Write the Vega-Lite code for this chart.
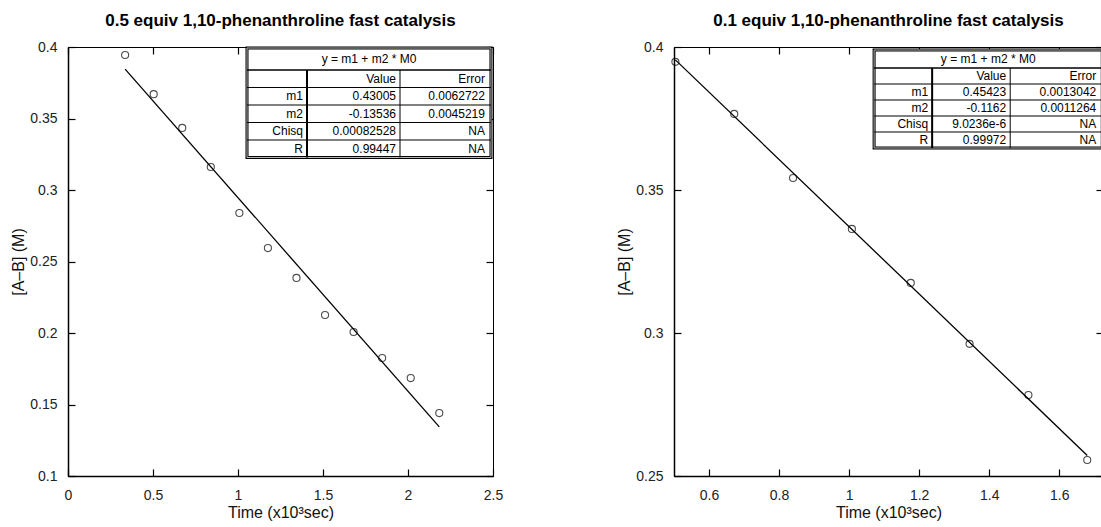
{
  "$schema": "https://vega.github.io/schema/vega-lite/v6.json",
  "background": "white",
  "padding": {"left": 10, "top": 11, "right": 0, "bottom": 0},
  "spacing": 112,
  "config": {
    "font": "Liberation Sans",
    "view": {"stroke": "#000", "strokeWidth": 1},
    "axis": {
      "grid": false,
      "labelFont": "Liberation Sans",
      "labelFontSize": 14,
      "labelColor": "#222",
      "tickColor": "#000",
      "tickWidth": 1.2,
      "domainColor": "#000",
      "titleFont": "Liberation Sans",
      "titleFontWeight": "normal",
      "titleFontSize": 16,
      "titleColor": "#111",
      "labelFlush": false,
      "labelOverlap": false
    },
    "title": {"font": "Liberation Sans", "fontSize": 17, "fontWeight": "bold", "color": "#000", "anchor": "middle", "frame": "group", "offset": 10}
  },
  "hconcat": [
    {
      "width": 425,
      "height": 429,
      "title": "0.5 equiv 1,10-phenanthroline fast catalysis",
      "resolve": {"axis": {"x": "independent", "y": "independent"}},
      "layer": [
        {
          "data": {"values": [{"t1": 1.053, "t2": 2.488, "c1": 0.3993, "c2": 0.32273}]},
          "mark": {"type": "rect", "fill": "white", "stroke": "#000", "strokeWidth": 3},
          "encoding": {
            "x": {"field": "t1", "type": "quantitative", "scale": {"domain": [0, 2.5], "nice": false, "zero": false}, "axis": null},
            "x2": {"field": "t2"},
            "y": {"field": "c1", "type": "quantitative", "scale": {"domain": [0.1, 0.4], "nice": false, "zero": false}, "axis": null},
            "y2": {"field": "c2"}
          }
        },
        {
          "data": {"values": [{"t1": 1.053, "t2": 2.488, "c1": 0.3993, "c2": 0.32273}]},
          "mark": {"type": "rect", "fill": null, "stroke": "#bbb", "strokeWidth": 1},
          "encoding": {
            "x": {"field": "t1", "type": "quantitative", "scale": {"domain": [0, 2.5], "nice": false, "zero": false}, "axis": null},
            "x2": {"field": "t2"},
            "y": {"field": "c1", "type": "quantitative", "scale": {"domain": [0.1, 0.4], "nice": false, "zero": false}, "axis": null},
            "y2": {"field": "c2"}
          }
        },
        {
          "data": {"values": [
            {"t1": 1.053, "t2": 2.488, "c1": 0.38392, "c2": 0.38392, "w": 1.5},
            {"t1": 1.053, "t2": 2.488, "c1": 0.37168, "c2": 0.37168, "w": 1},
            {"t1": 1.053, "t2": 2.488, "c1": 0.35944, "c2": 0.35944, "w": 1},
            {"t1": 1.053, "t2": 2.488, "c1": 0.3472, "c2": 0.3472, "w": 1},
            {"t1": 1.053, "t2": 2.488, "c1": 0.33497, "c2": 0.33497, "w": 1},
            {"t1": 1.406, "t2": 1.406, "c1": 0.38392, "c2": 0.32273, "w": 2},
            {"t1": 1.953, "t2": 1.953, "c1": 0.38392, "c2": 0.32273, "w": 1}
          ]},
          "mark": {"type": "rule", "color": "#000"},
          "encoding": {
            "x": {"field": "t1", "type": "quantitative", "scale": {"domain": [0, 2.5], "nice": false, "zero": false}, "axis": null},
            "x2": {"field": "t2"},
            "y": {"field": "c1", "type": "quantitative", "scale": {"domain": [0.1, 0.4], "nice": false, "zero": false}, "axis": null},
            "y2": {"field": "c2"},
            "strokeWidth": {"field": "w", "type": "quantitative", "scale": null}
          }
        },
        {
          "data": {"values": [{"t": 1.7705, "c": 0.39161, "label": "y = m1 + m2 * M0"}]},
          "mark": {"type": "text", "align": "center", "baseline": "middle", "fontSize": 12, "color": "#000"},
          "encoding": {
            "x": {"field": "t", "type": "quantitative", "scale": {"domain": [0, 2.5], "nice": false, "zero": false}, "axis": null},
            "y": {"field": "c", "type": "quantitative", "scale": {"domain": [0.1, 0.4], "nice": false, "zero": false}, "axis": null},
            "text": {"field": "label"}
          }
        },
        {
          "data": {"values": [
            {"t": 1.406, "c": 0.35332, "label": "m2"},
            {"t": 1.406, "c": 0.36556, "label": "m1"},
            {"t": 1.406, "c": 0.34108, "label": "Chisq"},
            {"t": 1.406, "c": 0.32885, "label": "R"},
            {"t": 1.953, "c": 0.3778, "label": "Value"},
            {"t": 1.953, "c": 0.36556, "label": "0.43005"},
            {"t": 1.953, "c": 0.35332, "label": "-0.13536"},
            {"t": 1.953, "c": 0.34108, "label": "0.00082528"},
            {"t": 1.953, "c": 0.32885, "label": "0.99447"}
          ]},
          "mark": {"type": "text", "align": "right", "baseline": "middle", "fontSize": 12, "dx": -4, "color": "#000"},
          "encoding": {
            "x": {"field": "t", "type": "quantitative", "scale": {"domain": [0, 2.5], "nice": false, "zero": false}, "axis": null},
            "y": {"field": "c", "type": "quantitative", "scale": {"domain": [0.1, 0.4], "nice": false, "zero": false}, "axis": null},
            "text": {"field": "label"}
          }
        },
        {
          "data": {"values": [
            {"t": 2.488, "c": 0.3778, "label": "Error"},
            {"t": 2.488, "c": 0.36556, "label": "0.0062722"},
            {"t": 2.488, "c": 0.35332, "label": "0.0045219"},
            {"t": 2.488, "c": 0.34108, "label": "NA"},
            {"t": 2.488, "c": 0.32885, "label": "NA"}
          ]},
          "mark": {"type": "text", "align": "right", "baseline": "middle", "fontSize": 12, "dx": -6, "color": "#000"},
          "encoding": {
            "x": {"field": "t", "type": "quantitative", "scale": {"domain": [0, 2.5], "nice": false, "zero": false}, "axis": null},
            "y": {"field": "c", "type": "quantitative", "scale": {"domain": [0.1, 0.4], "nice": false, "zero": false}, "axis": null},
            "text": {"field": "label"}
          }
        },
        {
          "data": {"values": [{"time": 0.336, "conc": 0.3845}, {"time": 2.184, "conc": 0.1344}]},
          "mark": {"type": "line", "color": "#000", "strokeWidth": 1.3},
          "encoding": {
            "x": {"field": "time", "type": "quantitative", "scale": {"domain": [0, 2.5], "nice": false, "zero": false},
                  "axis": {"orient": "top", "values": [0, 0.5, 1, 1.5, 2, 2.5], "labels": false, "domain": false, "tickSize": -7, "title": null}},
            "y": {"field": "conc", "type": "quantitative", "scale": {"domain": [0.1, 0.4], "nice": false, "zero": false},
                  "axis": {"orient": "right", "values": [0.1, 0.15, 0.2, 0.25, 0.3, 0.35, 0.4], "labels": false, "domain": false, "tickSize": -7, "title": null}}
          }
        },
        {
          "data": {"values": [
            {"time": 0.336, "conc": 0.3944},
            {"time": 0.504, "conc": 0.367},
            {"time": 0.672, "conc": 0.3434},
            {"time": 0.84, "conc": 0.3161},
            {"time": 1.008, "conc": 0.2839},
            {"time": 1.176, "conc": 0.2594},
            {"time": 1.344, "conc": 0.2385},
            {"time": 1.512, "conc": 0.2126},
            {"time": 1.68, "conc": 0.2007},
            {"time": 1.848, "conc": 0.1825},
            {"time": 2.016, "conc": 0.1685},
            {"time": 2.184, "conc": 0.144}
          ]},
          "mark": {"type": "point", "shape": "circle", "filled": false, "stroke": "#000", "strokeWidth": 1.1, "size": 50},
          "encoding": {
            "x": {"field": "time", "type": "quantitative", "scale": {"domain": [0, 2.5], "nice": false, "zero": false},
                  "axis": {"orient": "bottom", "values": [0, 0.5, 1, 1.5, 2, 2.5], "format": "~g", "tickSize": -7, "labelPadding": 19, "domainWidth": 1.5, "title": "Time (x10³sec)", "titlePadding": 2}},
            "y": {"field": "conc", "type": "quantitative", "scale": {"domain": [0.1, 0.4], "nice": false, "zero": false},
                  "axis": {"orient": "left", "values": [0.1, 0.15, 0.2, 0.25, 0.3, 0.35, 0.4], "format": "~g", "tickSize": -7, "labelPadding": 18, "domainWidth": 1.5, "title": "[A–B] (M)", "titlePadding": 3}}
          }
        }
      ]
    },
    {
      "width": 429,
      "height": 429,
      "title": "0.1 equiv 1,10-phenanthroline fast catalysis",
      "resolve": {"axis": {"x": "independent", "y": "independent"}},
      "layer": [
        {
          "data": {"values": [{"t1": 1.0714, "t2": 1.7229, "c1": 0.39895, "c2": 0.36469}]},
          "mark": {"type": "rect", "fill": "white", "stroke": "#000", "strokeWidth": 3},
          "encoding": {
            "x": {"field": "t1", "type": "quantitative", "scale": {"domain": [0.5, 1.725], "nice": false, "zero": false}, "axis": null},
            "x2": {"field": "t2"},
            "y": {"field": "c1", "type": "quantitative", "scale": {"domain": [0.25, 0.4], "nice": false, "zero": false}, "axis": null},
            "y2": {"field": "c2"}
          }
        },
        {
          "data": {"values": [{"t1": 1.0714, "t2": 1.7229, "c1": 0.39895, "c2": 0.36469}]},
          "mark": {"type": "rect", "fill": null, "stroke": "#bbb", "strokeWidth": 1},
          "encoding": {
            "x": {"field": "t1", "type": "quantitative", "scale": {"domain": [0.5, 1.725], "nice": false, "zero": false}, "axis": null},
            "x2": {"field": "t2"},
            "y": {"field": "c1", "type": "quantitative", "scale": {"domain": [0.25, 0.4], "nice": false, "zero": false}, "axis": null},
            "y2": {"field": "c2"}
          }
        },
        {
          "data": {"values": [
            {"t1": 1.0714, "t2": 1.7229, "c1": 0.39266, "c2": 0.39266, "w": 1.5},
            {"t1": 1.0714, "t2": 1.7229, "c1": 0.38706, "c2": 0.38706, "w": 1},
            {"t1": 1.0714, "t2": 1.7229, "c1": 0.38147, "c2": 0.38147, "w": 1},
            {"t1": 1.0714, "t2": 1.7229, "c1": 0.37587, "c2": 0.37587, "w": 1},
            {"t1": 1.0714, "t2": 1.7229, "c1": 0.37028, "c2": 0.37028, "w": 1},
            {"t1": 1.2371, "t2": 1.2371, "c1": 0.39266, "c2": 0.36469, "w": 2},
            {"t1": 1.46, "t2": 1.46, "c1": 0.39266, "c2": 0.36469, "w": 1}
          ]},
          "mark": {"type": "rule", "color": "#000"},
          "encoding": {
            "x": {"field": "t1", "type": "quantitative", "scale": {"domain": [0.5, 1.725], "nice": false, "zero": false}, "axis": null},
            "x2": {"field": "t2"},
            "y": {"field": "c1", "type": "quantitative", "scale": {"domain": [0.25, 0.4], "nice": false, "zero": false}, "axis": null},
            "y2": {"field": "c2"},
            "strokeWidth": {"field": "w", "type": "quantitative", "scale": null}
          }
        },
        {
          "data": {"values": [{"t": 1.3972, "c": 0.3958, "label": "y = m1 + m2 * M0"}]},
          "mark": {"type": "text", "align": "center", "baseline": "middle", "fontSize": 12, "color": "#000"},
          "encoding": {
            "x": {"field": "t", "type": "quantitative", "scale": {"domain": [0.5, 1.725], "nice": false, "zero": false}, "axis": null},
            "y": {"field": "c", "type": "quantitative", "scale": {"domain": [0.25, 0.4], "nice": false, "zero": false}, "axis": null},
            "text": {"field": "label"}
          }
        },
        {
          "data": {"values": [
            {"t": 1.2371, "c": 0.38427, "label": "m1"},
            {"t": 1.2371, "c": 0.37867, "label": "m2"},
            {"t": 1.2371, "c": 0.37308, "label": "Chisq"},
            {"t": 1.2371, "c": 0.36748, "label": "R"},
            {"t": 1.46, "c": 0.38986, "label": "Value"},
            {"t": 1.46, "c": 0.38427, "label": "0.45423"},
            {"t": 1.46, "c": 0.37867, "label": "-0.1162"},
            {"t": 1.46, "c": 0.37308, "label": "9.0236e-6"},
            {"t": 1.46, "c": 0.36748, "label": "0.99972"}
          ]},
          "mark": {"type": "text", "align": "right", "baseline": "middle", "fontSize": 12, "dx": -4, "color": "#000"},
          "encoding": {
            "x": {"field": "t", "type": "quantitative", "scale": {"domain": [0.5, 1.725], "nice": false, "zero": false}, "axis": null},
            "y": {"field": "c", "type": "quantitative", "scale": {"domain": [0.25, 0.4], "nice": false, "zero": false}, "axis": null},
            "text": {"field": "label"}
          }
        },
        {
          "data": {"values": [
            {"t": 1.7229, "c": 0.38986, "label": "Error"},
            {"t": 1.7229, "c": 0.38427, "label": "0.0013042"},
            {"t": 1.7229, "c": 0.37867, "label": "0.0011264"},
            {"t": 1.7229, "c": 0.37308, "label": "NA"},
            {"t": 1.7229, "c": 0.36748, "label": "NA"}
          ]},
          "mark": {"type": "text", "align": "right", "baseline": "middle", "fontSize": 12, "dx": -6, "color": "#000"},
          "encoding": {
            "x": {"field": "t", "type": "quantitative", "scale": {"domain": [0.5, 1.725], "nice": false, "zero": false}, "axis": null},
            "y": {"field": "c", "type": "quantitative", "scale": {"domain": [0.25, 0.4], "nice": false, "zero": false}, "axis": null},
            "text": {"field": "label"}
          }
        },
        {
          "data": {"values": [{"time": 0.504, "conc": 0.3955}, {"time": 1.68, "conc": 0.2572}]},
          "mark": {"type": "line", "color": "#000", "strokeWidth": 1.3},
          "encoding": {
            "x": {"field": "time", "type": "quantitative", "scale": {"domain": [0.5, 1.725], "nice": false, "zero": false},
                  "axis": {"orient": "top", "values": [0.6, 0.8, 1, 1.2, 1.4, 1.6], "labels": false, "domain": false, "tickSize": -7, "title": null}},
            "y": {"field": "conc", "type": "quantitative", "scale": {"domain": [0.25, 0.4], "nice": false, "zero": false},
                  "axis": {"orient": "right", "values": [0.25, 0.3, 0.35, 0.4], "labels": false, "domain": false, "tickSize": -7, "title": null}}
          }
        },
        {
          "data": {"values": [
            {"time": 0.504, "conc": 0.3948},
            {"time": 0.672, "conc": 0.3766},
            {"time": 0.84, "conc": 0.3542},
            {"time": 1.008, "conc": 0.3364},
            {"time": 1.176, "conc": 0.3175},
            {"time": 1.344, "conc": 0.2962},
            {"time": 1.512, "conc": 0.2783},
            {"time": 1.68, "conc": 0.2556}
          ]},
          "mark": {"type": "point", "shape": "circle", "filled": false, "stroke": "#000", "strokeWidth": 1.1, "size": 50},
          "encoding": {
            "x": {"field": "time", "type": "quantitative", "scale": {"domain": [0.5, 1.725], "nice": false, "zero": false},
                  "axis": {"orient": "bottom", "values": [0.6, 0.8, 1, 1.2, 1.4, 1.6], "format": "~g", "tickSize": -7, "labelPadding": 19, "domainWidth": 1.5, "title": "Time (x10³sec)", "titlePadding": 2}},
            "y": {"field": "conc", "type": "quantitative", "scale": {"domain": [0.25, 0.4], "nice": false, "zero": false},
                  "axis": {"orient": "left", "values": [0.25, 0.3, 0.35, 0.4], "format": "~g", "tickSize": -7, "labelPadding": 18, "domainWidth": 1.5, "title": "[A–B] (M)", "titlePadding": 3}}
          }
        }
      ]
    }
  ]
}
